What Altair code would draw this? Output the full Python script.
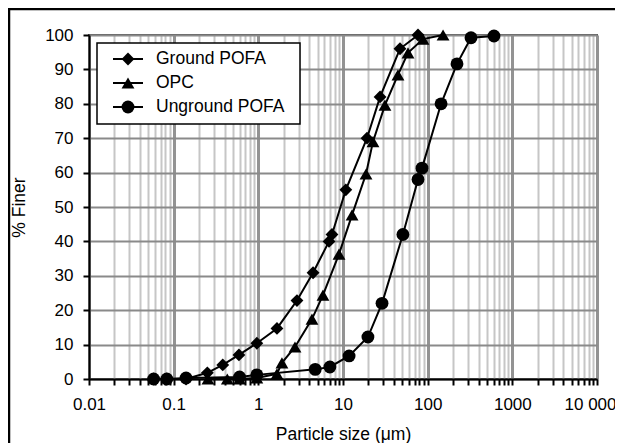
import altair as alt
import pandas as pd

# ---- data ----
series_names = ["Ground POFA", "OPC", "Unground POFA"]
series_shapes = ["diamond", "triangle-up", "circle"]

ground_size = [0.058, 0.083, 0.14, 0.25, 0.38, 0.59, 0.96, 1.66, 2.86, 4.43, 6.84, 7.41, 10.8, 19.2, 27.4, 47.1, 76.9]
ground_pct = [0, 0, 0, 1.8, 4.1, 7.0, 10.4, 14.7, 22.8, 30.9, 40.0, 42.0, 55.0, 70.0, 82.0, 96.0, 100.0]

opc_size = [0.254, 0.43, 0.6, 0.96, 1.66, 1.9, 2.71, 4.3, 5.8, 8.97, 12.8, 18.7, 22.6, 31.3, 44.6, 58.6, 88.0, 152.0]
opc_pct = [0, 0, 0, 0.3, 1.5, 4.7, 9.3, 17.4, 24.4, 36.3, 47.7, 59.6, 69.0, 79.6, 88.4, 94.8, 98.8, 100.0]

ung_size = [0.058, 0.083, 0.14, 0.6, 0.96, 4.7, 7.0, 11.8, 19.7, 28.9, 51.0, 76.9, 85.7, 144.0, 222.0, 325.0, 607.0]
ung_pct = [0, 0, 0.3, 0.6, 1.2, 2.8, 3.5, 6.7, 12.2, 22.0, 42.0, 58.0, 61.3, 80.0, 91.6, 99.2, 99.7]

decade_values = [0.01, 0.1, 1, 10, 100, 1000, 10000]
decade_labels = ["0.01", "0.1", "1", "10", "100", "1000", "10 000"]
y_ticks = [0, 10, 20, 30, 40, 50, 60, 70, 80, 90, 100]

# ---- tables ----
rows = []
for name, xs, ys in [(series_names[0], ground_size, ground_pct),
                     (series_names[1], opc_size, opc_pct),
                     (series_names[2], ung_size, ung_pct)]:
    for i, (a, b) in enumerate(zip(xs, ys)):
        rows.append({"series": name, "size": a, "pct": b, "order": i})
df = pd.DataFrame(rows)

minor_values = []
for d in decade_values[:-1]:
    for m in range(1, 10):
        minor_values.append(round(m * d, 6))
minor_values.append(decade_values[-1])

exp_of = "round(log(datum.value)/LN10)"
is_decade = f"abs(log(datum.value)/LN10 - {exp_of}) < 0.001"
label_map = "{" + ",".join(f"'{e}':'{l}'" for e, l in zip(range(-2, 5), decade_labels)) + "}"
label_expr = f"{is_decade} ? ({label_map})[''+{exp_of}] : ''"

FONT = "Liberation Sans"

x_enc = alt.X(
    "size:Q",
    scale=alt.Scale(type="log", domain=[0.01, 10000], nice=False),
    axis=alt.Axis(
        title="Particle size (μm)",
        values=minor_values,
        labelExpr=label_expr,
        labelFontSize=17,
        labelFont=FONT,
        labelColor="#000",
        labelPadding=11,
        labelOverlap=False,
        labelFlush=False,
        labelOffset={"condition": {"test": "datum.value > 5000", "value": -7}, "value": 0},
        titleFontSize=17.5,
        titleFont=FONT,
        titleFontWeight="normal",
        titleColor="#000",
        titlePadding=13,
        grid=True,
        gridColor={"condition": {"test": is_decade, "value": "#939393"}, "value": "#c6c6c6"},
        gridWidth={"condition": {"test": is_decade, "value": 3}, "value": 2},
        gridOpacity=1,
        tickColor="#000",
        tickSize=6,
        tickWidth=2,
        domainColor="#000",
        domainWidth=2,
    ),
)
y_enc = alt.Y(
    "pct:Q",
    scale=alt.Scale(domain=[0, 100], nice=False, zero=False),
    axis=alt.Axis(
        title="% Finer",
        values=y_ticks,
        tickCount=11,
        labelFontSize=17,
        labelFont=FONT,
        labelColor="#000",
        labelPadding=10,
        labelOverlap=False,
        labelFlush=False,
        titleFontSize=17.5,
        titleFont=FONT,
        titleFontWeight="normal",
        titleColor="#000",
        titlePadding=16,
        grid=True,
        gridColor="#8a8a8a",
        gridWidth=2,
        gridOpacity=1,
        tickColor="#000",
        tickSize=6,
        tickWidth=2,
        domainColor="#000",
        domainWidth=2,
    ),
)

base = alt.Chart(df)
lines = base.mark_line(color="black", strokeWidth=2).encode(
    x=x_enc, y=y_enc, detail="series:N", order="order:Q"
)
shape_scale = alt.Scale(domain=series_names, range=series_shapes)
points = base.mark_point(filled=True, color="black", opacity=1, size=165).encode(
    x=x_enc, y=y_enc,
    shape=alt.Shape("series:N", scale=shape_scale, legend=None),
)

# ---- manual legend (pixel positions inside plot area) ----
one = pd.DataFrame({"a": [0]})
legend_layers = [
    alt.Chart(one).mark_rect(fill="white", stroke="black", strokeWidth=1.5).encode(
        x=alt.value(8), x2=alt.value(211), y=alt.value(8), y2=alt.value(89)
    )
]
row_y = [24, 48, 72]
for name, shp, yy in zip(series_names, series_shapes, row_y):
    legend_layers.append(
        alt.Chart(one).mark_rule(color="black", strokeWidth=2).encode(
            x=alt.value(24), x2=alt.value(54), y=alt.value(yy)
        )
    )
    legend_layers.append(
        alt.Chart(one).mark_point(filled=True, color="black", opacity=1, size=165, shape=shp).encode(
            x=alt.value(39), y=alt.value(yy)
        )
    )
    legend_layers.append(
        alt.Chart(one).mark_text(
            align="left", baseline="middle", font=FONT, fontSize=17.5, color="black", text=name
        ).encode(x=alt.value(67), y=alt.value(yy))
    )

# outer frame lines (top & left)
frame_top = alt.Chart(one).mark_rule(color="black", strokeWidth=2.5).encode(
    x=alt.value(-81), x2=alt.value(540), y=alt.value(-26)
)
frame_left = alt.Chart(one).mark_rule(color="black", strokeWidth=2.5).encode(
    x=alt.value(-80), y=alt.value(-27), y2=alt.value(430)
)

chart = alt.layer(
    lines, points, *legend_layers, frame_top, frame_left
).properties(
    width=508,
    height=344,
    autosize=alt.AutoSizeParams(type="none"),
    padding={"left": 81, "top": 27, "right": 18, "bottom": 64},
    background="white",
).configure_view(stroke="#555555", strokeWidth=2)

chart.save("out.html", embed_options={"renderer": "svg", "actions": False})
